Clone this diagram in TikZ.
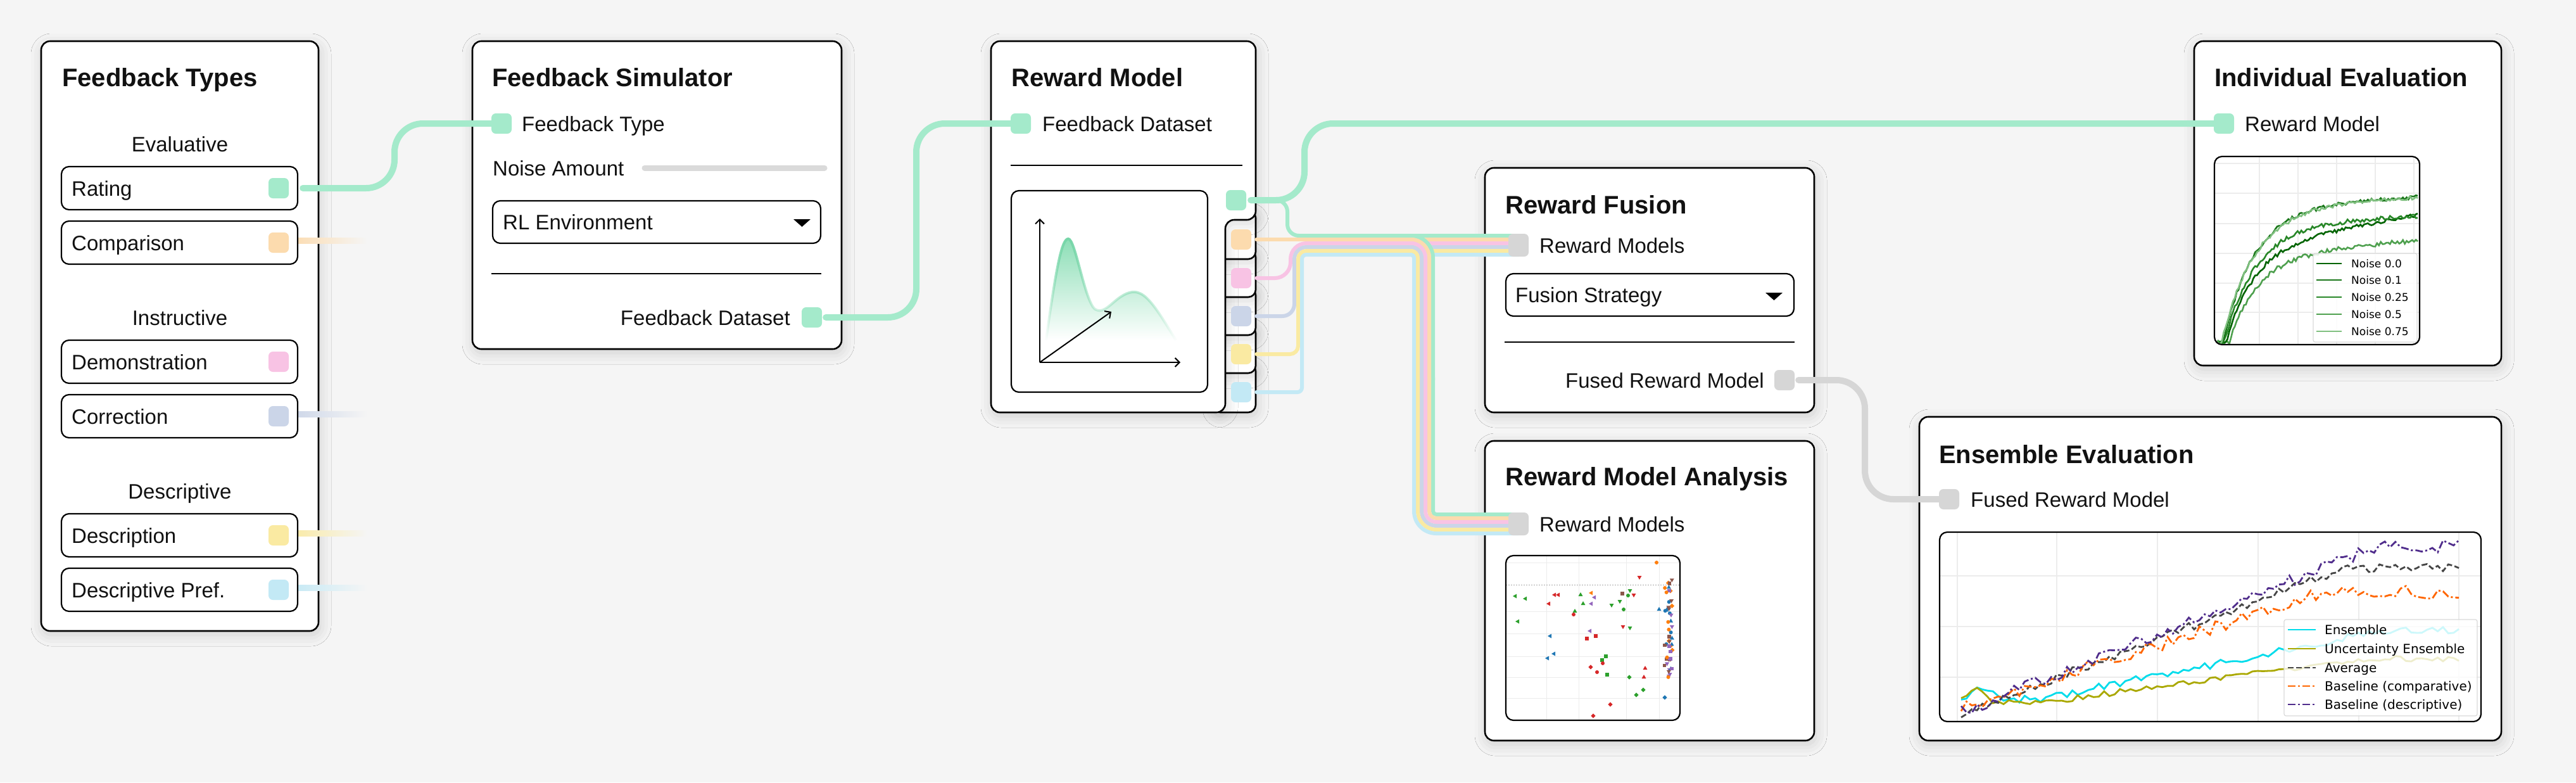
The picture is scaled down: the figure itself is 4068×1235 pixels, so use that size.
\documentclass[tikz,border=0pt]{standalone}
\usepackage{fontspec}
\setmainfont{Liberation Sans}
\newfontfamily\legfont{DejaVu Sans}
\usetikzlibrary{shadows.blur,arrows.meta,shapes.geometric,fadings}
\pgfdeclarelayer{bg}
\pgfdeclarelayer{wires}
\pgfsetlayers{bg,wires,main}
\definecolor{bgC}{HTML}{F5F5F5}
\definecolor{cG}{HTML}{A4EACB}
\definecolor{cO}{HTML}{FCDBAE}
\definecolor{cP}{HTML}{F8C3E4}
\definecolor{cB}{HTML}{CBD5E8}
\definecolor{cY}{HTML}{FAEAA2}
\definecolor{cL}{HTML}{C3E9F5}
\definecolor{cGr}{HTML}{D6D6D6}
\definecolor{cSl}{HTML}{DADADA}
\definecolor{txt}{HTML}{111111}
\definecolor{gridC}{HTML}{ECECEC}
\definecolor{fillTop}{RGB}{140,222,182}
\definecolor{curveC}{RGB}{118,214,168}
\definecolor{iv0}{RGB}{0,100,0}
\definecolor{iv1}{RGB}{25,118,25}
\definecolor{iv2}{RGB}{40,135,40}
\definecolor{iv3}{RGB}{78,160,78}
\definecolor{iv4}{RGB}{128,192,128}
\definecolor{eCy}{RGB}{0,220,235}
\definecolor{eOl}{RGB}{170,168,0}
\definecolor{eAv}{RGB}{70,70,70}
\definecolor{eOr}{RGB}{255,102,0}
\definecolor{ePu}{RGB}{80,45,140}
\definecolor{sr}{RGB}{214,39,40}
\definecolor{sg}{RGB}{44,160,44}
\definecolor{sb}{RGB}{31,119,180}
\definecolor{so}{RGB}{255,127,14}
\definecolor{sp}{RGB}{148,103,189}
\definecolor{sbr}{RGB}{140,86,75}
\tikzset{
  panel/.style={fill=white, draw=black, line width=2.6pt, rounded corners=14pt,
    blur shadow={shadow xshift=2pt, shadow yshift=-6pt, shadow blur radius=18pt, shadow opacity=16}},
  tabbox/.style={panel, rounded corners=12pt},
  inbox/.style={draw=black, line width=2.2pt, rounded corners=12pt},
  rowbox/.style={draw=black, fill=white, line width=2.2pt, rounded corners=12pt,
    minimum width=373pt, minimum height=68pt, inner sep=0pt},
  port/.style={minimum width=32pt, minimum height=32pt, inner sep=0pt, rounded corners=7pt},
  ttl/.style={font=\fontsize{40pt}{48pt}\selectfont\bfseries, anchor=base west, inner sep=0pt, text=txt},
  lbl/.style={font=\fontsize{33pt}{40pt}\selectfont, inner sep=0pt, text=txt},
  divider/.style={line width=2.4pt, draw=black},
  slider/.style={line width=9pt, line cap=round, draw=cSl},
  conn/.style={line width=10pt, line cap=round, rounded corners=45pt},
  bund/.style={line width=6pt, line cap=round},
  legI/.style={font=\legfont\fontsize{17pt}{20pt}\selectfont, inner sep=0pt, anchor=base west},
  legE/.style={font=\legfont\fontsize{20pt}{24pt}\selectfont, inner sep=0pt, anchor=base west},
  grid line/.style={draw=gridC, line width=1.3pt},
  scc/.style={circle, inner sep=0pt, minimum size=6pt},
  sct/.style={regular polygon, regular polygon sides=3, inner sep=0pt, minimum size=8pt},
  scd/.style={regular polygon, regular polygon sides=3, shape border rotate=180, inner sep=0pt, minimum size=8pt},
  scl/.style={regular polygon, regular polygon sides=3, shape border rotate=90, inner sep=0pt, minimum size=8pt},
  scs/.style={rectangle, inner sep=0pt, minimum size=5.5pt},
  scm/.style={diamond, inner sep=0pt, minimum size=7.5pt},
  dashdot line/.style={dash pattern=on 12pt off 4pt on 3pt off 4pt},
}
\begin{document}
\begin{tikzpicture}[x=1pt,y=-1pt]
\useasboundingbox (0,0) rectangle (4068,1235);
% ---------------- panels ----------------
\begin{pgfonlayer}{bg}
\fill[bgC] (0,0) rectangle (4068,1235);
\draw[panel] (65,65) rectangle (503,996);
\draw[panel] (746,65) rectangle (1329,551);
\foreach \tt/\tb in {574/651,514/589,454/529,394/469,332/409}
  \draw[tabbox] (1915,\tt) rectangle (1983,\tb);
\draw[panel] (1565,65) -- (1983,65) -- (1983,347) -- (1935,347) -- (1935,651) -- (1565,651) -- cycle;
\draw[panel] (2345,265) rectangle (2865,651);
\draw[panel] (2345,696) rectangle (2865,1169);
\draw[panel] (3465,65) rectangle (3950,577);
\draw[panel] (3031,658) rectangle (3950,1169);
\end{pgfonlayer}
% ---------------- Feedback Types ----------------
\node[ttl] (tFT) at (98,136) {Feedback Types};
\node[lbl, anchor=base] (sEval) at (284,239) {Evaluative};
\node[lbl, anchor=base] (sInstr) at (284,513) {Instructive};
\node[lbl, anchor=base] (sDesc) at (284,787) {Descriptive};
\foreach \nm/\yy/\tx/\cl in {Rating/297/Rating/cG, Comparison/383/Comparison/cO,
    Demo/571/Demonstration/cP, Corr/657/Correction/cB, Descr/845/Description/cY,
    DPref/931/Descriptive Pref./cL} {
  \node[rowbox] (b\nm) at (283.5,\yy) {};
  \node[lbl, anchor=base west] (t\nm) at (113,\yy+12) {\tx};
  \node[port, fill=\cl] (p\nm) at (440,\yy) {};
}
% ---------------- Feedback Simulator ----------------
\node[ttl] (tFS) at (777,136) {Feedback Simulator};
\node[port, fill=cG] (pFT) at (792,195) {};
\node[lbl, anchor=base west] (tFTy) at (824,207) {Feedback Type};
\node[lbl, anchor=base west] (tNA) at (778,277) {Noise Amount};
\draw[slider] (1018,265) -- (1302,265);
\node[rowbox, minimum width=518pt, minimum height=67pt] (ddRL) at (1037,350.5) {};
\node[lbl, anchor=base west] (tRL) at (794,362) {RL Environment};
\fill[black] (1253,346) -- (1280,346) -- (1266.5,358) -- cycle;
\draw[divider] (776,432) -- (1297,432);
\node[lbl, anchor=base east] (tFD) at (1248,513) {Feedback Dataset};
\node[port, fill=cG] (pFD) at (1282,501) {};
% ---------------- Reward Model ----------------
\node[ttl] (tRM) at (1597,136) {Reward Model};
\node[port, fill=cG] (pRMin) at (1612,195) {};
\node[lbl, anchor=base west] (tRMin) at (1646,207) {Feedback Dataset};
\draw[divider] (1596,261) -- (1962,261);
\draw[inbox, fill=white] (1597,301) rectangle (1907,619);
\path[top color=fillTop, bottom color=white]
  (1652,537) .. controls (1668,420) and (1677,377) .. (1687,377)
  .. controls (1698,377) and (1712,470) .. (1728,487)
  .. controls (1740,497) and (1752,482) .. (1765,472)
  .. controls (1778,462) and (1790,458) .. (1800,463)
  .. controls (1818,470) and (1840,510) .. (1857,537) -- cycle;
\draw[curveC, line width=4pt, path fading=south]
  (1652,537) .. controls (1668,420) and (1677,377) .. (1687,377)
  .. controls (1698,377) and (1712,470) .. (1728,487)
  .. controls (1740,497) and (1752,482) .. (1765,472)
  .. controls (1778,462) and (1790,458) .. (1800,463)
  .. controls (1818,470) and (1840,510) .. (1857,537);
\coordinate (ax0) at (1642,572);
\draw[line width=2pt, -{Straight Barb[length=7pt,width=14pt]}] (ax0) -- (1642,345);
\draw[line width=2pt, -{Straight Barb[length=7pt,width=14pt]}] (ax0) -- (1864,572);
\draw[line width=2pt, -{Straight Barb[length=7pt,width=14pt]}] (ax0) -- (1755,492);
\node[port, fill=cG] (pRMout) at (1952,316) {};
\node[port, fill=cO] (pO) at (1960,378) {};
\node[port, fill=cP] (pPk) at (1960,439) {};
\node[port, fill=cB] (pBg) at (1960,499) {};
\node[port, fill=cY] (pYe) at (1960,559) {};
\node[port, fill=cL] (pLb) at (1960,619) {};
% ---------------- Reward Fusion ----------------
\node[ttl] (tRF) at (2377,337) {Reward Fusion};
\node[port, fill=cGr, minimum height=36pt] (pRF) at (2398,387) {};
\node[lbl, anchor=base west] (tRFin) at (2431,399) {Reward Models};
\node[rowbox, minimum width=455pt, minimum height=67pt] (ddFS) at (2605.5,465.5) {};
\node[lbl, anchor=base west] (tFSt) at (2393,477) {Fusion Strategy};
\fill[black] (2788,462) -- (2815,462) -- (2801.5,474) -- cycle;
\draw[divider] (2376,540) -- (2834,540);
\node[lbl, anchor=base east] (tFRM) at (2786,612) {Fused Reward Model};
\node[port, fill=cGr] (pFRM) at (2818,600) {};
% ---------------- Reward Model Analysis ----------------
\node[ttl] (tRMA) at (2377,766) {Reward Model Analysis};
\node[port, fill=cGr, minimum height=36pt] (pRMA) at (2398,827) {};
\node[lbl, anchor=base west] (tRMAin) at (2431,839) {Reward Models};
\begin{scope}
  \clip[rounded corners=12pt] (2378,877) rectangle (2653,1137);
  \fill[white] (2378,877) rectangle (2653,1137);
  \foreach \gx in {2442,2493,2568,2620} \draw[grid line, line width=1pt] (\gx,877) -- (\gx,1137);
  \foreach \gy in {888,965,1000,1036,1069,1102} \draw[grid line, line width=1pt] (2378,\gy) -- (2653,\gy);
  \draw[gray!70, line width=0.8pt, dash pattern=on 2pt off 2pt] (2378,923) -- (2653,923);
  \foreach \px/\py/\ps/\pc in {2393/941/l/sg, 2409/945/l/sg, 2397/981/l/sg, 2455/939/l/sr,
      2461/939/l/sr, 2446/953/l/sr, 2496/939/t/sg, 2513/936/l/so, 2518/943/l/sp, 2500/953/t/sg,
      2513/953/l/sp, 2487/965/t/sg, 2485/970/c/sr, 2562/937/s/sbr, 2571/940/c/sg, 2580/939/d/sr,
      2574/932/d/sg, 2589/911/d/sr, 2616/888/c/so, 2545/955/d/sg, 2558/949/d/sg, 2564/962/c/sg,
      2563/989/d/sr, 2574/991/d/sg, 2448/1004/l/sb, 2511/996/l/sp, 2506/1008/s/sr, 2520/1004/s/sr,
      2454/1032/l/sb, 2444/1039/l/sb, 2536/1036/s/sg, 2530/1042/s/sg, 2531/1047/c/sr, 2512/1053/m/sr,
      2522/1061/c/sr, 2538/1065/s/sg, 2573/1069/m/sg, 2598/1055/t/sr, 2596/1069/t/sr, 2595/1089/m/sg,
      2584/1097/m/sg, 2543/1112/m/sr, 2516/1130/m/sr, 2620/962/t/sb, 2629/1101/m/sb}
    \node[sc\ps, fill=\pc] at (\px,\py) {};
  \pgfmathsetseed{11}
  \foreach \pc/\ps in {sb/c,sp/d,so/m,sbr/s,sb/t,sp/s,so/c,sbr/d} {
    \foreach \i in {1,...,6} {
      \pgfmathsetmacro\px{2634+7*rand}
      \pgfmathsetmacro\py{995+88*rand}
      \node[sc\ps, fill=\pc] at (\px,\py) {};
    }
  }
\end{scope}
\draw[inbox] (2378,877) rectangle (2653,1137);
% ---------------- Individual Evaluation ----------------
\node[ttl] (tIE) at (3497,136) {Individual Evaluation};
\node[port, fill=cG] (pIE) at (3512,195) {};
\node[lbl, anchor=base west] (tIEin) at (3545,207) {Reward Model};
\begin{scope}
  \clip[rounded corners=12pt] (3497,247) rectangle (3821,544);
  \fill[white] (3497,247) rectangle (3821,544);
  \foreach \gx in {3568,3629,3690,3751,3812} \draw[grid line] (\gx,247) -- (\gx,544);
  \foreach \gy in {258,305,353,400,447,493} \draw[grid line] (3497,\gy) -- (3821,\gy);
  \pgfmathsetseed{5}
  \draw[iv3, line width=2.6pt] plot[domain=3500:3818, samples=110]
    (\x, {541-(135*(1-exp(-max(\x-3520,0)/45))+0.09*max(\x-3520,0))+3.5*rand});
  \draw[iv0, line width=2.6pt] plot[domain=3500:3818, samples=110]
    (\x, {541-(150*(1-exp(-max(\x-3515,0)/45))+0.17*max(\x-3515,0))+3*rand});
  \draw[iv2, line width=2.6pt] plot[domain=3500:3818, samples=110]
    (\x, {541-(185*(1-exp(-max(\x-3512,0)/50))+0.05*max(\x-3512,0))+3.5*rand});
  \draw[iv1, line width=2.6pt] plot[domain=3500:3818, samples=110]
    (\x, {541-(215*(1-exp(-max(\x-3510,0)/50))+0.05*max(\x-3510,0))+3*rand});
  \draw[iv4, line width=2.6pt] plot[domain=3500:3818, samples=110]
    (\x, {541-(213*(1-exp(-max(\x-3508,0)/52))+0.055*max(\x-3508,0))+3*rand});
  \fill[white, opacity=0.85] (3653,400) rectangle (3817,540);
  \draw[gray!30, line width=1.2pt, rounded corners=3pt] (3653,400) rectangle (3817,540);
  \foreach \ly/\lc/\lt in {416/iv0/Noise 0.0, 442/iv1/Noise 0.1, 469/iv2/Noise 0.25,
      496/iv3/Noise 0.5, 523/iv4/Noise 0.75} {
    \draw[\lc, line width=2.8pt] (3658,\ly) -- (3698,\ly);
    \node[legI] at (3713,\ly+6) {\lt};
  }
\end{scope}
\draw[inbox] (3497,247) rectangle (3821,544);
% ---------------- Ensemble Evaluation ----------------
\node[ttl] (tEE) at (3062,731) {Ensemble Evaluation};
\node[port, fill=cGr] (pEE) at (3078,788) {};
\node[lbl, anchor=base west] (tEEin) at (3112,800) {Fused Reward Model};
\begin{scope}
  \clip[rounded corners=12pt] (3063,840) rectangle (3918,1139);
  \fill[white] (3063,840) rectangle (3918,1139);
  \foreach \gx in {3091,3248,3407,3566,3725,3883} \draw[grid line] (\gx,840) -- (\gx,1139);
  \foreach \gy in {909,989,1069} \draw[grid line] (3063,\gy) -- (3918,\gy);
  \pgfmathsetseed{3}
  \draw[eCy, line width=2.8pt] plot[domain=3097:3883, samples=95]
    (\x, {max(min(1104,1104-0.2*(\x-3220)),995)-15*exp(-((\x-3128)/22)^2)+6*rand});
  \draw[eOl, line width=2.8pt] plot[domain=3097:3883, samples=95]
    (\x, {max(min(1108,1108-0.135*(\x-3230)),1040)-18*exp(-((\x-3120)/18)^2)+4.5*rand});
  \draw[eAv, line width=2.8pt, dash pattern=on 9pt off 4pt] plot[domain=3097:3883, samples=95]
    (\x, {max(1127-0.38*(\x-3097),897)+7*rand});
  \draw[eOr, line width=2.8pt, dashdot line] plot[domain=3097:3883, samples=95]
    (\x, {max(1118-0.32*(\x-3097),936)+11*rand});
  \draw[ePu, line width=2.8pt, dashdot line] plot[domain=3097:3883, samples=95]
    (\x, {max(1124-0.40*(\x-3097),862)+10*rand});
  \fill[white, opacity=0.8] (3607,978) rectangle (3912,1130);
  \draw[gray!30, line width=1.2pt, rounded corners=3pt] (3607,978) rectangle (3912,1130);
  \draw[eCy, line width=2.8pt] (3613,994) -- (3657,994);
  \node[legE] (lE1) at (3671,1001) {Ensemble};
  \draw[eOl, line width=2.8pt] (3613,1024) -- (3657,1024);
  \node[legE] (lE2) at (3671,1031) {Uncertainty Ensemble};
  \draw[eAv, line width=2.8pt, dash pattern=on 9pt off 4pt] (3613,1054) -- (3657,1054);
  \node[legE] (lE3) at (3671,1061) {Average};
  \draw[eOr, line width=2.8pt, dashdot line] (3613,1083) -- (3657,1083);
  \node[legE] (lE4) at (3671,1090) {Baseline (comparative)};
  \draw[ePu, line width=2.8pt, dashdot line] (3613,1112) -- (3657,1112);
  \node[legE] (lE5) at (3671,1119) {Baseline (descriptive)};
\end{scope}
\draw[inbox] (3063,840) rectangle (3918,1139);
% ---------------- connectors ----------------
\begin{pgfonlayer}{wires}
  % fading stubs
  \foreach \pn/\cl in {Comparison/cO, Corr/cB, Descr/cY, DPref/cL}
    \shade[left color=\cl, right color=bgC] ([yshift=7.5pt]p\pn.east) rectangle ([xshift=124pt,yshift=-1.5pt]p\pn.east);
  % main connectors
  \draw[conn, cG] ([xshift=22pt]pRating.east) -| ([xshift=-169pt]pFT.center) -- (pFT.center);
  \draw[conn, cG] ([xshift=6pt]pFD.east) -| ([xshift=-165pt]pRMin.center) -- (pRMin.center);
  \draw[conn, cG] ([xshift=7pt]pRMout.east) -| ([xshift=-1452pt]pIE.center) -- (pIE.center);
  \draw[conn, cGr] ([xshift=6pt]pFRM.east) -| ([xshift=-133pt]pEE.center) -- (pEE.center);
  % bundle to Reward Fusion
  \draw[bund, cG, rounded corners=18pt] ([xshift=7pt]pRMout.east) -| ([xshift=-365pt,yshift=15pt]pRF.center) -- ([yshift=15pt]pRF.center);
  \draw[bund, cO] ([xshift=8pt]pO.east) -- ([yshift=9pt]pRF.center);
  \draw[bund, cP, rounded corners=25pt] ([xshift=8pt]pPk.east) -| ([xshift=-360pt,yshift=3pt]pRF.center) -- ([yshift=3pt]pRF.center);
  \draw[bund, cB, rounded corners=19pt] ([xshift=8pt]pBg.east) -| ([xshift=-354pt,yshift=-3pt]pRF.center) -- ([yshift=-3pt]pRF.center);
  \draw[bund, cY, rounded corners=13pt] ([xshift=8pt]pYe.east) -| ([xshift=-348pt,yshift=-9pt]pRF.center) -- ([yshift=-9pt]pRF.center);
  \draw[bund, cL, rounded corners=7pt] ([xshift=8pt]pLb.east) -| ([xshift=-342pt,yshift=-15pt]pRF.center) -- ([yshift=-15pt]pRF.center);
  % bundle down to Reward Model Analysis
  \foreach \cl/\k in {cG/0,cO/1,cP/2,cB/3,cY/4,cL/5} {
    \pgfmathsetmacro\dy{15-6*\k}
    \pgfmathsetmacro\xv{2263-6*\k}
    \pgfmathsetmacro\rt{35-6*\k}
    \pgfmathsetmacro\rb{5+6*\k}
    \draw[bund, line cap=butt, \cl, rounded corners=\rt pt] ([xshift=-250pt,yshift=\dy pt]pRF.center) -| (\xv,600);
    \draw[bund, line cap=butt, \cl, rounded corners=\rb pt] (\xv,596) |- ([yshift=\dy pt]pRMA.center);
  }
\end{pgfonlayer}
\end{tikzpicture}
\end{document}
